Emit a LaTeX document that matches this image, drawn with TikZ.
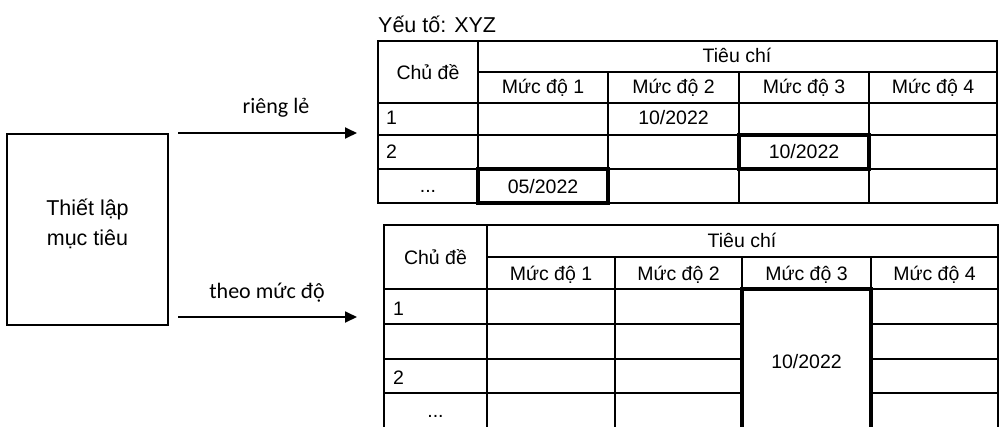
\documentclass[tikz,border=0pt]{standalone}
\usepackage{fontspec}
\setmainfont{Liberation Sans}
\newfontfamily\calfont{Carlito}
\usetikzlibrary{arrows.meta}
\begin{document}
\begin{tikzpicture}[x=1pt,y=-1pt,
  grid/.style={line width=1.8pt},
  boldcell/.style={line width=3.6pt},
  cell/.style={font=\fontsize{19.5}{22}\selectfont, inner sep=0pt, anchor=base},
  rowlbl/.style={font=\fontsize{19.5}{22}\selectfont, inner sep=0pt, anchor=base west},
  lbl/.style={font=\calfont\fontsize{22}{26}\selectfont, inner sep=0pt, anchor=base},
  conn/.style={line width=1.8pt, -{Triangle[length=12pt,width=11pt]}}]
\useasboundingbox (0,0) rectangle (1001,426);

% left box
\node[draw, line width=1.6pt, minimum width=161pt, minimum height=191pt, inner sep=0pt] (goal) at (87.5,229.5) {};
\node[align=center, font=\fontsize{21.5}{30}\selectfont, inner sep=0pt, yshift=6pt] (goaltxt) at (goal.center) {Thiết lập\\mục tiêu};

% arrows
\coordinate (a1s) at (178,133);
\coordinate (a1e) at (357,133);
\coordinate (a2s) at (178,317);
\coordinate (a2e) at (357,317);
\draw[conn] (a1s) -- (a1e);
\draw[conn] (a2s) -- (a2e);
\node[lbl] (l1) at (276,113) {riêng lẻ};
\node[lbl] (l2) at (267,298) {theo mức độ};

% title
\node[font=\fontsize{21.5}{26}\selectfont, inner sep=0pt, anchor=base west] (title) at (378,32) {Yếu tố: XYZ};

% top table
\draw[grid] (378,41) rectangle (997,203);
\draw[grid] (478,41) -- (478,203);
\draw[grid] (478,72) -- (997,72);
\foreach \yy in {103,135,169} \draw[grid] (378,\yy) -- (997,\yy);
\foreach \xx in {608,739,869} \draw[grid] (\xx,72) -- (\xx,203);
\draw[boldcell] (478,169) rectangle (608,203);
\draw[boldcell] (739,135) rectangle (869,169);

\node[cell] (t1cd) at (428,79) {Chủ đề};
\node[cell] (t1tc) at (737,62) {Tiêu chí};
\node[cell] (t1m1) at (543,93) {Mức độ 1};
\node[cell] (t1m2) at (673.5,93) {Mức độ 2};
\node[cell] (t1m3) at (804,93) {Mức độ 3};
\node[cell] (t1m4) at (933,93) {Mức độ 4};
\node[rowlbl] (t1r1) at (386,124) {1};
\node[rowlbl] (t1r2) at (386,158) {2};
\node[cell] (t1r3) at (428,192) {...};
\node[cell] (t1v1) at (673.5,124) {10/2022};
\node[cell] (t1v2) at (804,158) {10/2022};
\node[cell] (t1v3) at (543,193) {05/2022};

% bottom table
\draw[grid] (384,427) -- (384,225) -- (998,225) -- (998,427);
\draw[grid] (487,225) -- (487,427);
\draw[grid] (487,257) -- (998,257);
\draw[grid] (384,289) -- (998,289);
\foreach \yy in {324,359,393} {
  \draw[grid] (384,\yy) -- (742,\yy);
  \draw[grid] (871,\yy) -- (998,\yy);
}
\foreach \xx in {615,742,871} \draw[grid] (\xx,257) -- (\xx,427);
\draw[boldcell] (742,427) -- (742,289) -- (871,289) -- (871,427);

\node[cell] (t2cd) at (435.5,264) {Chủ đề};
\node[cell] (t2tc) at (742,247) {Tiêu chí};
\node[cell] (t2m1) at (551,280) {Mức độ 1};
\node[cell] (t2m2) at (678.5,280) {Mức độ 2};
\node[cell] (t2m3) at (806.5,280) {Mức độ 3};
\node[cell] (t2m4) at (934.5,280) {Mức độ 4};
\node[rowlbl] (t2r1) at (393,315) {1};
\node[rowlbl] (t2r3) at (393,384) {2};
\node[cell] (t2r4) at (435.5,417) {...};
\node[cell] (t2v) at (806.5,368) {10/2022};
\end{tikzpicture}
\end{document}
